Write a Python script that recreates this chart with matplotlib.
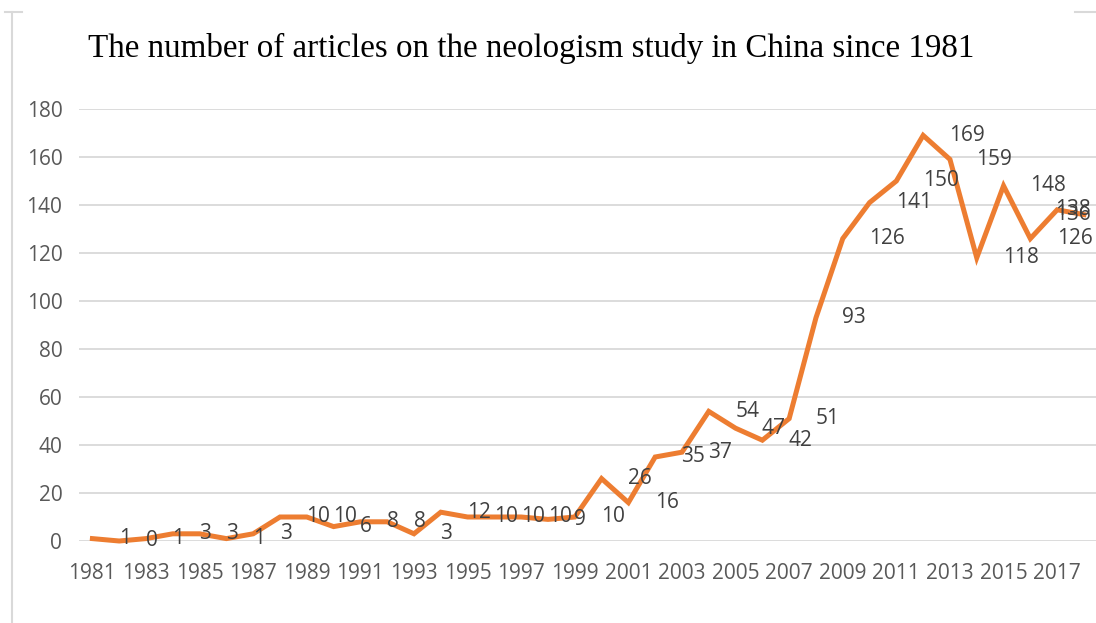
import matplotlib
matplotlib.use("Agg")
import matplotlib.pyplot as plt
from matplotlib.lines import Line2D

years = list(range(1981, 2019))
articles = [1, 0, 1, 3, 3, 1, 3, 10, 10, 6, 8, 8, 3, 12, 10, 10, 10, 9, 10,
            26, 16, 35, 37, 54, 47, 42, 51, 93, 126, 141, 150, 169, 159, 118,
            148, 126, 138, 136]
tick_years = [str(y) for y in range(1981, 2018, 2)]
y_ticks = list(range(0, 181, 20))

title = "The number of articles on the neologism study in China since 1981"

W, H, DPI = 1096, 623, 100
fig = plt.figure(figsize=(W / DPI, H / DPI), dpi=DPI)
fig.patch.set_facecolor("white")

# chart frame remnants (light grey border)
frame_c = "#d9d9d9"
fig.add_artist(Line2D([12 / W, 12 / W], [0, 1 - 12 / H], transform=fig.transFigure,
                      color=frame_c, lw=1.5))
fig.add_artist(Line2D([5 / W, 22 / W], [1 - 12 / H, 1 - 12 / H], transform=fig.transFigure,
                      color=frame_c, lw=1.5))
fig.add_artist(Line2D([1075 / W, 1], [1 - 12 / H, 1 - 12 / H], transform=fig.transFigure,
                      color=frame_c, lw=1.5))

left_px, right_px = 79, 1096
bottom_px, top_px = 541, 109
ax = fig.add_axes([left_px / W, (H - bottom_px) / H,
                   (right_px - left_px) / W, (bottom_px - top_px) / H])

x = list(range(len(years)))
ax.plot(x, articles, color="#ed7d31", lw=3.6, solid_joinstyle="miter", zorder=3,
        clip_on=False)

ax.set_ylim(0, 180)
ax.set_xlim(-0.5, 37.45)
ax.set_yticks(y_ticks)
ax.set_yticklabels([str(v) for v in y_ticks])
ax.set_xticks(list(range(0, len(years), 2)))
ax.set_xticklabels(tick_years)

for s in ax.spines.values():
    s.set_visible(False)
ax.grid(axis="y", color="#d9d9d9", lw=1.3, zorder=0)
ax.set_axisbelow(True)
ax.tick_params(axis="both", length=0, colors="#595959", labelsize=15)
ax.tick_params(axis="y", pad=12)
ax.tick_params(axis="x", pad=16)
for lab in ax.get_xticklabels() + ax.get_yticklabels():
    lab.set_fontfamily("Open Sans")

# value labels, set to the right of each point; kept inside the plot at the far end
for i, v in enumerate(articles):
    if i >= len(articles) - 2:
        ax.annotate(str(v), xy=(1.0, v), xycoords=("axes fraction", "data"),
                    xytext=(-4, 0), textcoords="offset points", ha="right", va="center",
                    fontsize=15, color="#404040", family="Open Sans", zorder=4)
    else:
        ax.annotate(str(v), xy=(i, v), xytext=(19, 0), textcoords="offset points",
                    ha="left", va="center", fontsize=15, color="#404040",
                    family="Open Sans", zorder=4)

fig.text(88 / W, 1 - 48 / H, title, ha="left", va="center", fontsize=23.8,
         family="Liberation Serif", color="black")

fig.savefig("out.png", dpi=DPI, facecolor="white")
